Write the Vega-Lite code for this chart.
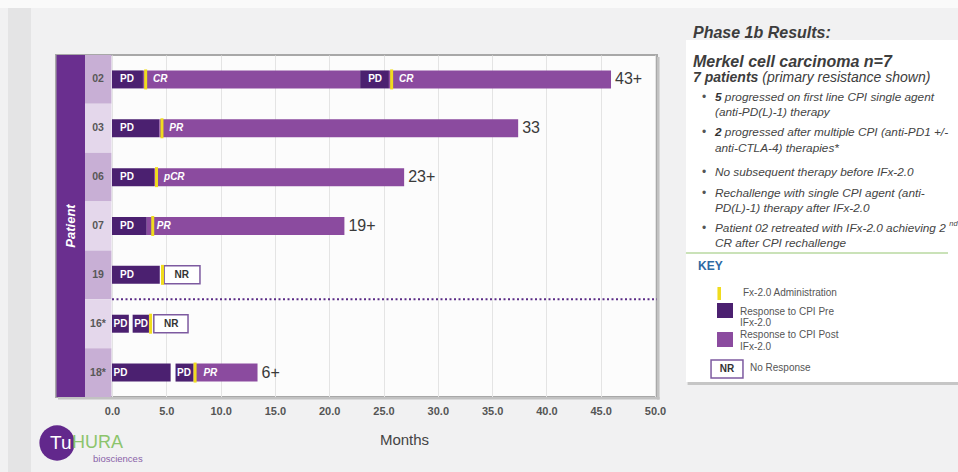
{
  "$schema": "https://vega.github.io/schema/vega-lite/v6.json",
  "width": 601,
  "height": 342,
  "autosize": {"type": "none"},
  "padding": {"left": 56, "top": 55, "right": 301, "bottom": 75},
  "background": "#f1f1f2",
  "config": {
    "view": {"stroke": "#a8a8a8", "strokeWidth": 2, "fill": "#fcfcfc"},
    "font": "Liberation Sans",
    "text": {"font": "Liberation Sans"}
  },
  "datasets": {
    "patients": [
      {"patient": "02"}, {"patient": "03"}, {"patient": "06"}, {"patient": "07"},
      {"patient": "19"}, {"patient": "16*"}, {"patient": "18*"}
    ],
    "segments": [
      {"patient": "02", "start": 0, "end": 2.85, "type": "PD", "label": "PD"},
      {"patient": "02", "start": 2.85, "end": 22.85, "type": "Post", "label": "CR"},
      {"patient": "02", "start": 22.85, "end": 25.5, "type": "PD", "label": "PD"},
      {"patient": "02", "start": 25.5, "end": 45.95, "type": "Post", "label": "CR"},
      {"patient": "03", "start": 0, "end": 4.36, "type": "PD", "label": "PD"},
      {"patient": "03", "start": 4.36, "end": 37.4, "type": "Post", "label": "PR"},
      {"patient": "06", "start": 0, "end": 3.87, "type": "PD", "label": "PD"},
      {"patient": "06", "start": 3.87, "end": 26.9, "type": "Post", "label": "pCR"},
      {"patient": "07", "start": 0, "end": 3.2, "type": "PD", "label": "PD"},
      {"patient": "07", "start": 3.2, "end": 21.4, "type": "Post", "label": "PR"},
      {"patient": "19", "start": 0, "end": 4.4, "type": "PD", "label": "PD"},
      {"patient": "19", "start": 4.8, "end": 8.1, "type": "NR", "label": "NR"},
      {"patient": "16*", "start": 0, "end": 1.55, "type": "PD", "label": "PD"},
      {"patient": "16*", "start": 1.9, "end": 3.4, "type": "PD", "label": "PD"},
      {"patient": "16*", "start": 3.85, "end": 7.0, "type": "NR", "label": "NR"},
      {"patient": "18*", "start": 0, "end": 5.4, "type": "PD", "label": "PD"},
      {"patient": "18*", "start": 5.85, "end": 7.5, "type": "PD", "label": "PD"},
      {"patient": "18*", "start": 7.5, "end": 13.4, "type": "Post", "label": "PR"}
    ],
    "admin": [
      {"patient": "02", "month": 3.1}, {"patient": "02", "month": 25.75},
      {"patient": "03", "month": 4.6}, {"patient": "06", "month": 4.1},
      {"patient": "07", "month": 3.75}, {"patient": "19", "month": 4.65},
      {"patient": "16*", "month": 3.55}, {"patient": "18*", "month": 7.65}
    ],
    "outcomes": [
      {"patient": "02", "end": 45.95, "label": "43+"},
      {"patient": "03", "end": 37.4, "label": "33"},
      {"patient": "06", "end": 26.9, "label": "23+"},
      {"patient": "07", "end": 21.4, "label": "19+"},
      {"patient": "18*", "end": 13.4, "label": "6+"}
    ]
  },
  "resolve": {"scale": {"y": "independent"}},
  "layer": [
    {
      "data": {"values": [{}]},
      "layer": [
        {"mark": {"type": "rect", "color": "#fafafa"}, "encoding": {"x": {"datum": -10.5}, "x2": {"datum": 78.5}, "y": {"datum": -0.7, "type": "quantitative", "scale": {"domain": [0.5, 7.5], "reverse": true, "nice": false, "zero": false}, "axis": null}, "y2": {"datum": -0.462}}},
        {"mark": {"type": "rect", "color": "#e4e4e5"}, "encoding": {"x": {"datum": -9.576}, "x2": {"datum": -7.459}, "y": {"datum": -0.462, "axis": null}, "y2": {"datum": 9.2}}},
        {"mark": {"type": "rect", "color": "#c2c2c2"}, "encoding": {"x": {"datum": 50.18}, "x2": {"datum": 50.42}, "y": {"datum": 0.54, "axis": null}, "y2": {"datum": 7.553}}},
        {"mark": {"type": "rect", "color": "#c2c2c2"}, "encoding": {"x": {"datum": -4.97}, "x2": {"datum": 50.42}, "y": {"datum": 7.5, "axis": null}, "y2": {"datum": 7.553}}},
        {"mark": {"type": "rect", "color": "#c6c6c6"}, "encoding": {"x": {"datum": 53.0}, "x2": {"datum": 78.5}, "y": {"datum": 0.25, "axis": null}, "y2": {"datum": 7.255}}},
        {"mark": {"type": "rect", "color": "#ffffff"}, "encoding": {"x": {"datum": 52.85}, "x2": {"datum": 78.5}, "y": {"datum": 0.193, "axis": null}, "y2": {"datum": 7.193}}},
        {"mark": {"type": "rect", "color": "#6a2f8f"}, "encoding": {"x": {"datum": -5.11}, "x2": {"datum": -2.486}, "y": {"datum": 0.5, "axis": null}, "y2": {"datum": 7.5}}},
        {"mark": {"type": "text", "text": "Patient", "angle": 270, "align": "center", "baseline": "middle", "fontSize": 13, "fontWeight": "bold", "fontStyle": "italic", "color": "#ffffff"}, "encoding": {"x": {"datum": -3.82}, "y": {"datum": 4.0, "axis": null}}},
        {"mark": {"type": "rule", "color": "#5a2b86", "strokeWidth": 2, "strokeDash": [2, 2.5]}, "encoding": {"x": {"datum": 0}, "x2": {"datum": 50.18}, "y": {"datum": 5.5, "axis": null}}},
        {"mark": {"type": "text", "text": "Phase 1b Results:", "align": "left", "baseline": "middle", "fontSize": 16, "fontWeight": "bold", "fontStyle": "italic", "color": "#3d3d3d"}, "encoding": {"x": {"datum": 53.5}, "y": {"datum": 0.05, "axis": null}}},
        {"mark": {"type": "text", "text": "Merkel cell carcinoma n=7", "align": "left", "baseline": "middle", "fontSize": 16, "fontWeight": "bold", "fontStyle": "italic", "color": "#3d3d3d"}, "encoding": {"x": {"datum": 53.5}, "y": {"datum": 0.643, "axis": null}}},
        {"mark": {"type": "text", "text": "7 patients", "align": "left", "baseline": "middle", "fontSize": 14, "fontWeight": "bold", "fontStyle": "italic", "color": "#3d3d3d"}, "encoding": {"x": {"datum": 53.5}, "y": {"datum": 0.971, "axis": null}}},
        {"mark": {"type": "text", "text": "(primary resistance shown)", "align": "left", "baseline": "middle", "fontSize": 14, "fontStyle": "italic", "color": "#3d3d3d"}, "encoding": {"x": {"datum": 59.88}, "y": {"datum": 0.971, "axis": null}}},
        {"mark": {"type": "text", "text": "•", "align": "left", "baseline": "middle", "fontSize": 12, "color": "#555555"}, "encoding": {"x": {"datum": 54.33}, "y": {"datum": 1.36, "axis": null}}},
        {"mark": {"type": "text", "text": "•", "align": "left", "baseline": "middle", "fontSize": 12, "color": "#555555"}, "encoding": {"x": {"datum": 54.33}, "y": {"datum": 2.076, "axis": null}}},
        {"mark": {"type": "text", "text": "•", "align": "left", "baseline": "middle", "fontSize": 12, "color": "#555555"}, "encoding": {"x": {"datum": 54.33}, "y": {"datum": 2.895, "axis": null}}},
        {"mark": {"type": "text", "text": "•", "align": "left", "baseline": "middle", "fontSize": 12, "color": "#555555"}, "encoding": {"x": {"datum": 54.33}, "y": {"datum": 3.325, "axis": null}}},
        {"mark": {"type": "text", "text": "•", "align": "left", "baseline": "middle", "fontSize": 12, "color": "#555555"}, "encoding": {"x": {"datum": 54.33}, "y": {"datum": 4.041, "axis": null}}},
        {"mark": {"type": "text", "text": "5", "align": "left", "baseline": "middle", "fontSize": 11.8, "fontStyle": "italic", "fontWeight": "bold", "color": "#333333"}, "encoding": {"x": {"datum": 55.52}, "y": {"datum": 1.36, "axis": null}}},
        {"mark": {"type": "text", "text": "progressed on first line CPI single agent", "align": "left", "baseline": "middle", "fontSize": 11.8, "fontStyle": "italic", "color": "#444444"}, "encoding": {"x": {"datum": 56.43}, "y": {"datum": 1.36, "axis": null}}},
        {"mark": {"type": "text", "text": "(anti-PD(L)-1) therapy", "align": "left", "baseline": "middle", "fontSize": 11.8, "fontStyle": "italic", "color": "#444444"}, "encoding": {"x": {"datum": 55.52}, "y": {"datum": 1.667, "axis": null}}},
        {"mark": {"type": "text", "text": "2", "align": "left", "baseline": "middle", "fontSize": 11.8, "fontStyle": "italic", "fontWeight": "bold", "color": "#333333"}, "encoding": {"x": {"datum": 55.52}, "y": {"datum": 2.076, "axis": null}}},
        {"mark": {"type": "text", "text": "progressed after multiple CPI (anti-PD1 +/-", "align": "left", "baseline": "middle", "fontSize": 11.8, "fontStyle": "italic", "color": "#444444"}, "encoding": {"x": {"datum": 56.43}, "y": {"datum": 2.076, "axis": null}}},
        {"mark": {"type": "text", "text": "anti-CTLA-4) therapies*", "align": "left", "baseline": "middle", "fontSize": 11.8, "fontStyle": "italic", "color": "#444444"}, "encoding": {"x": {"datum": 55.52}, "y": {"datum": 2.404, "axis": null}}},
        {"mark": {"type": "text", "text": "No subsequent therapy before IFx-2.0", "align": "left", "baseline": "middle", "fontSize": 11.8, "fontStyle": "italic", "color": "#444444"}, "encoding": {"x": {"datum": 55.52}, "y": {"datum": 2.895, "axis": null}}},
        {"mark": {"type": "text", "text": "Rechallenge with single CPI agent  (anti-", "align": "left", "baseline": "middle", "fontSize": 11.8, "fontStyle": "italic", "color": "#444444"}, "encoding": {"x": {"datum": 55.52}, "y": {"datum": 3.325, "axis": null}}},
        {"mark": {"type": "text", "text": "PD(L)-1) therapy after IFx-2.0", "align": "left", "baseline": "middle", "fontSize": 11.8, "fontStyle": "italic", "color": "#444444"}, "encoding": {"x": {"datum": 55.52}, "y": {"datum": 3.632, "axis": null}}},
        {"mark": {"type": "text", "text": "Patient 02 retreated with IFx-2.0 achieving 2", "align": "left", "baseline": "middle", "fontSize": 11.8, "fontStyle": "italic", "color": "#444444"}, "encoding": {"x": {"datum": 55.52}, "y": {"datum": 4.041, "axis": null}}},
        {"mark": {"type": "text", "text": "nd", "align": "left", "baseline": "middle", "fontSize": 7.5, "fontStyle": "italic", "color": "#444444"}, "encoding": {"x": {"datum": 77.1}, "y": {"datum": 3.95, "axis": null}}},
        {"mark": {"type": "text", "text": "CR after CPI rechallenge", "align": "left", "baseline": "middle", "fontSize": 11.8, "fontStyle": "italic", "color": "#444444"}, "encoding": {"x": {"datum": 55.52}, "y": {"datum": 4.348, "axis": null}}},
        {"mark": {"type": "rule", "color": "#b9d9a0", "strokeWidth": 1.5}, "encoding": {"x": {"datum": 52.85}, "x2": {"datum": 76.98}, "y": {"datum": 4.553, "axis": null}}},
        {"mark": {"type": "text", "text": "KEY", "align": "left", "baseline": "middle", "fontSize": 12, "fontWeight": "bold", "color": "#2f6aa3"}, "encoding": {"x": {"datum": 53.96}, "y": {"datum": 4.819, "axis": null}}},
        {"mark": {"type": "rect", "color": "#f0dc1e"}, "encoding": {"x": {"datum": 55.75}, "x2": {"datum": 56.08}, "y": {"datum": 5.249, "axis": null}, "y2": {"datum": 5.515}}},
        {"mark": {"type": "text", "text": "Fx-2.0 Administration", "align": "left", "baseline": "middle", "fontSize": 10, "color": "#555555"}, "encoding": {"x": {"datum": 58.1}, "y": {"datum": 5.371, "axis": null}}},
        {"mark": {"type": "rect", "color": "#4b2070"}, "encoding": {"x": {"datum": 55.71}, "x2": {"datum": 57.18}, "y": {"datum": 5.576, "axis": null}, "y2": {"datum": 5.883}}},
        {"mark": {"type": "text", "text": "Response to CPI Pre", "align": "left", "baseline": "middle", "fontSize": 10, "color": "#555555"}, "encoding": {"x": {"datum": 57.83}, "y": {"datum": 5.75, "axis": null}}},
        {"mark": {"type": "text", "text": "IFx-2.0", "align": "left", "baseline": "middle", "fontSize": 10, "color": "#555555"}, "encoding": {"x": {"datum": 57.83}, "y": {"datum": 5.98, "axis": null}}},
        {"mark": {"type": "rect", "color": "#8b4b9f"}, "encoding": {"x": {"datum": 55.71}, "x2": {"datum": 57.18}, "y": {"datum": 6.17, "axis": null}, "y2": {"datum": 6.477}}},
        {"mark": {"type": "text", "text": "Response to CPI Post", "align": "left", "baseline": "middle", "fontSize": 10, "color": "#555555"}, "encoding": {"x": {"datum": 57.83}, "y": {"datum": 6.231, "axis": null}}},
        {"mark": {"type": "text", "text": "IFx-2.0", "align": "left", "baseline": "middle", "fontSize": 10, "color": "#555555"}, "encoding": {"x": {"datum": 57.83}, "y": {"datum": 6.47, "axis": null}}},
        {"mark": {"type": "rect", "fill": "#ffffff", "stroke": "#7d5aa0", "strokeWidth": 1.5}, "encoding": {"x": {"datum": 55.16}, "x2": {"datum": 58.1}, "y": {"datum": 6.743, "axis": null}, "y2": {"datum": 7.111}}},
        {"mark": {"type": "text", "text": "NR", "align": "center", "baseline": "middle", "fontSize": 10, "fontWeight": "bold", "color": "#333333"}, "encoding": {"x": {"datum": 56.63}, "y": {"datum": 6.927, "axis": null}}},
        {"mark": {"type": "text", "text": "No Response", "align": "left", "baseline": "middle", "fontSize": 10, "color": "#555555"}, "encoding": {"x": {"datum": 58.75}, "y": {"datum": 6.906, "axis": null}}},
        {"mark": {"type": "point", "shape": "circle", "filled": true, "size": 1250, "color": "#62288c", "opacity": 1}, "encoding": {"x": {"datum": -5.06}, "y": {"datum": 8.441, "axis": null}}},
        {"mark": {"type": "text", "text": "Tu", "align": "left", "baseline": "middle", "fontSize": 19, "color": "#ffffff"}, "encoding": {"x": {"datum": -5.71}, "y": {"datum": 8.441, "axis": null}}},
        {"mark": {"type": "text", "text": "HURA", "align": "left", "baseline": "middle", "fontSize": 18, "color": "#8cc46c"}, "encoding": {"x": {"datum": -3.68}, "y": {"datum": 8.441, "axis": null}}},
        {"mark": {"type": "text", "text": "biosciences", "align": "left", "baseline": "middle", "fontSize": 9.5, "color": "#8a62a8"}, "encoding": {"x": {"datum": -1.75}, "y": {"datum": 8.77, "axis": null}}}
      ]
    },
    {
      "layer": [
        {
          "data": {"name": "patients"},
          "mark": {"type": "rect"},
          "encoding": {
            "x": {"datum": -2.486, "type": "quantitative",
              "scale": {"domain": [-5.157, 50.184], "nice": false, "zero": false},
              "axis": {"values": [0, 5, 10, 15, 20, 25, 30, 35, 40, 45, 50], "format": ".1f", "labelFontWeight": "bold", "labelFontSize": 11, "labelColor": "#555555", "labelPadding": 8, "labelFlush": false, "labelOverlap": false, "ticks": false, "domain": false, "grid": true, "gridColor": "#e4e4e4", "gridWidth": 1, "title": "Months", "titleFontSize": 15, "titleFontWeight": "normal", "titleColor": "#444444", "titleX": 348, "titleY": 42, "titleBaseline": "middle", "titleAlign": "center"}},
            "x2": {"datum": -0.05},
            "y": {"field": "patient", "type": "nominal", "scale": {"domain": ["02", "03", "06", "07", "19", "16*", "18*"], "paddingInner": 0, "paddingOuter": 0}, "axis": null},
            "fill": {"field": "patient", "type": "nominal", "scale": {"domain": ["02", "03", "06", "07", "19", "16*", "18*"], "range": ["#c8afd5", "#e4d7eb", "#c8afd5", "#e4d7eb", "#c8afd5", "#e4d7eb", "#c8afd5"]}, "legend": null}
          }
        },
        {
          "data": {"name": "patients"},
          "mark": {"type": "text", "align": "center", "baseline": "middle", "fontSize": 10.5, "fontWeight": "bold", "color": "#585858"},
          "encoding": {
            "x": {"datum": -1.29},
            "y": {"field": "patient", "type": "nominal", "axis": null},
            "text": {"field": "patient"}
          }
        },
        {
          "data": {"name": "segments"},
          "transform": [{"filter": "datum.type !== 'NR'"}],
          "mark": {"type": "bar", "size": 18},
          "encoding": {
            "x": {"field": "start", "type": "quantitative"},
            "x2": {"field": "end"},
            "y": {"field": "patient", "type": "nominal", "axis": null},
            "color": {"field": "type", "type": "nominal", "scale": {"domain": ["PD", "Post"], "range": ["#4b2070", "#8b4b9f"]}, "legend": null}
          }
        },
        {
          "data": {"name": "segments"},
          "transform": [{"filter": "datum.type === 'NR'"}],
          "mark": {"type": "bar", "size": 18, "fill": "#ffffff", "stroke": "#7d5aa0", "strokeWidth": 1.5},
          "encoding": {
            "x": {"field": "start", "type": "quantitative"},
            "x2": {"field": "end"},
            "y": {"field": "patient", "type": "nominal", "axis": null}
          }
        },
        {
          "data": {"name": "segments"},
          "transform": [{"filter": "datum.type === 'PD' && indexof(datum.patient, '*') < 0"}],
          "mark": {"type": "text", "align": "left", "baseline": "middle", "dx": 8, "fontSize": 10, "fontWeight": "bold", "color": "#ffffff"},
          "encoding": {
            "x": {"field": "start", "type": "quantitative"},
            "y": {"field": "patient", "type": "nominal", "axis": null},
            "text": {"field": "label"}
          }
        },
        {
          "data": {"name": "segments"},
          "transform": [{"filter": "datum.type === 'PD' && indexof(datum.patient, '*') >= 0"}],
          "mark": {"type": "text", "align": "left", "baseline": "middle", "dx": 1.5, "fontSize": 10, "fontWeight": "bold", "color": "#ffffff"},
          "encoding": {
            "x": {"field": "start", "type": "quantitative"},
            "y": {"field": "patient", "type": "nominal", "axis": null},
            "text": {"field": "label"}
          }
        },
        {
          "data": {"name": "segments"},
          "transform": [{"filter": "datum.type === 'Post'"}],
          "mark": {"type": "text", "align": "left", "baseline": "middle", "dx": 10, "fontSize": 10, "fontWeight": "bold", "fontStyle": "italic", "color": "#ffffff"},
          "encoding": {
            "x": {"field": "start", "type": "quantitative"},
            "y": {"field": "patient", "type": "nominal", "axis": null},
            "text": {"field": "label"}
          }
        },
        {
          "data": {"name": "segments"},
          "transform": [{"filter": "datum.type === 'NR'"}],
          "mark": {"type": "text", "align": "center", "baseline": "middle", "dx": 17.5, "fontSize": 10, "fontWeight": "bold", "color": "#333333"},
          "encoding": {
            "x": {"field": "start", "type": "quantitative"},
            "y": {"field": "patient", "type": "nominal", "axis": null},
            "text": {"field": "label"}
          }
        },
        {
          "data": {"name": "admin"},
          "mark": {"type": "tick", "color": "#f0dc1e", "thickness": 3, "size": 20, "opacity": 1},
          "encoding": {
            "x": {"field": "month", "type": "quantitative"},
            "y": {"field": "patient", "type": "nominal", "axis": null}
          }
        },
        {
          "data": {"name": "outcomes"},
          "mark": {"type": "text", "align": "left", "baseline": "middle", "dx": 4, "fontSize": 16, "color": "#3a3a3a"},
          "encoding": {
            "x": {"field": "end", "type": "quantitative"},
            "y": {"field": "patient", "type": "nominal", "axis": null},
            "text": {"field": "label"}
          }
        }
      ]
    }
  ]
}
